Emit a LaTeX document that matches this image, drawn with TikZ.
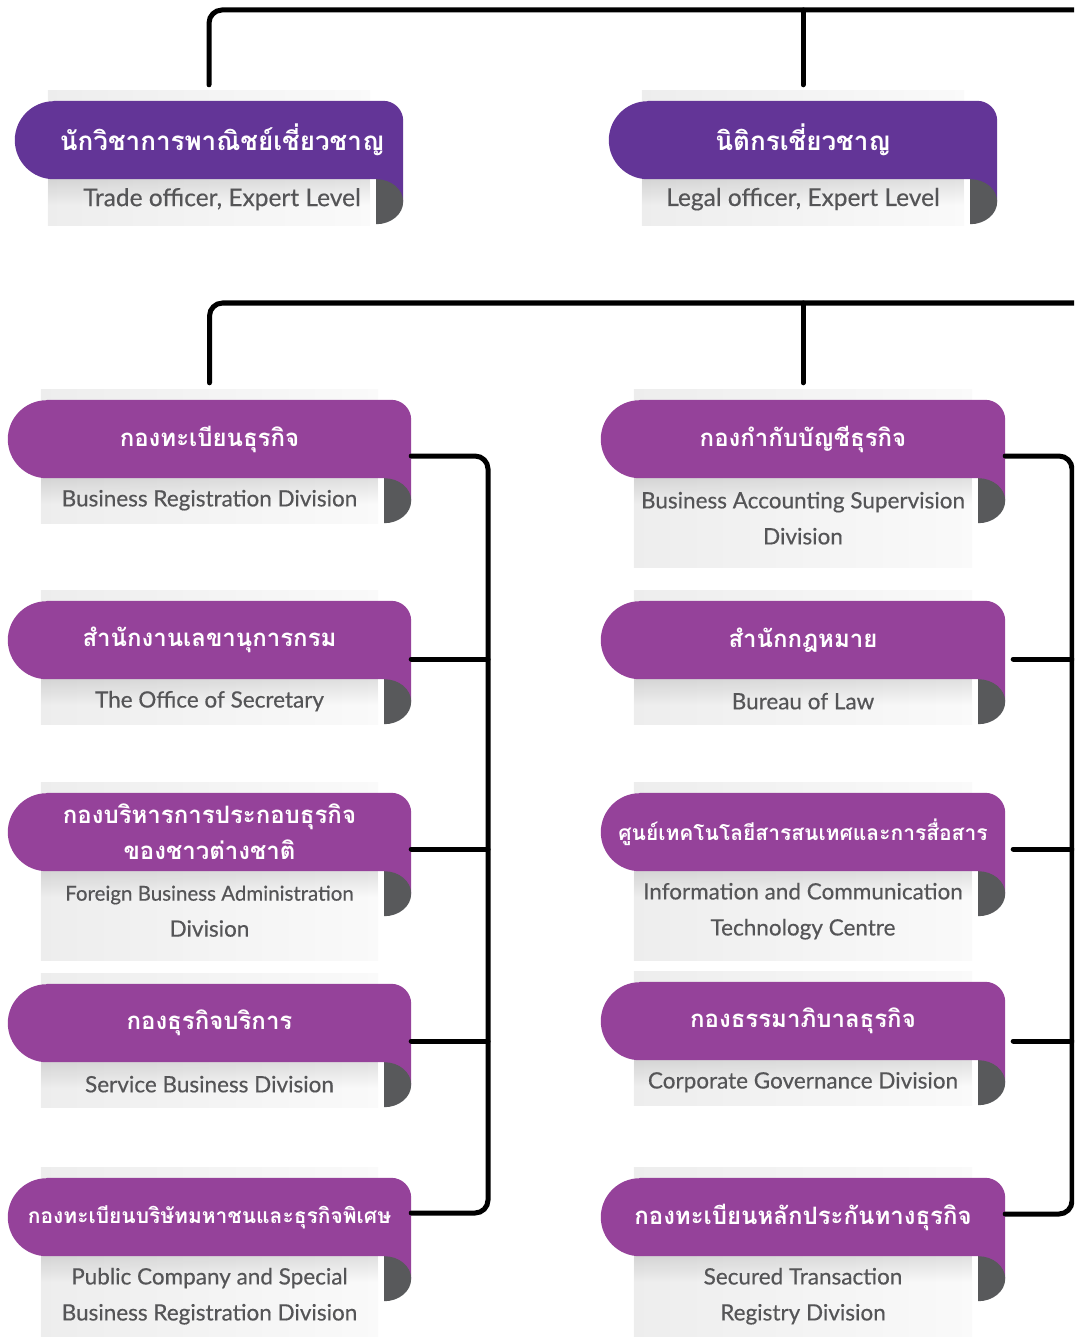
\documentclass[tikz,border=0pt]{standalone}
\usepackage{fontspec}
\newfontfamily\thaifont[Script=Thai]{Loma}
\newfontfamily\engfont[FakeBold=0.4]{Lato}
\usetikzlibrary{positioning,fadings}

\definecolor{toppurple}{HTML}{633597}
\definecolor{rowpurple}{HTML}{95429A}
\definecolor{curlgrey}{HTML}{58595B}
\definecolor{subgrey}{HTML}{555557}

\tikzfading[name=shadowfade, top color=transparent!0, bottom color=transparent!100]

\tikzset{%
  every banner/.style={
    rectangle,
    inner sep=0pt,
    minimum height=78pt
  },
  title text/.style={
    text=white,
    align=center,
    font=\thaifont\bfseries\fontsize{24}{36}\selectfont
  },
  sub text/.style={
    text=subgrey,
    align=center,
    font=\engfont\fontsize{22.5}{36}\selectfont
  },
  bus/.style={
    line width=5pt,
    line cap=round,
    rounded corners=13pt
  },
}

\newcommand{\toptitle}{\fontsize{26}{36}\selectfont}
\newcommand{\topsub}{\fontsize{24.5}{36}\selectfont}
\newcommand{\longtitle}{\fontsize{21}{36}\selectfont}
\newcommand{\longsub}{\fontsize{20.5}{36}\selectfont}

\begin{document}
\begin{tikzpicture}[x=1pt, y=1pt]

    \useasboundingbox (0,0) rectangle (1074,-1337);
    \clip (0,0) rectangle (1074,-1337);

    % cards: name / x / y / width / colour / title / subtitle / subtitle offset / panel depth
    \foreach \n/\x/\y/\w/\c/\t/\s/\o/\d in {
        top-1/209/140/388/toppurple/{\toptitle\hspace*{26pt}นักวิชาการพาณิชย์เชี่ยวชาญ}/{\topsub\hspace*{26pt}Trade officer, Expert Level}/20/46,
        top-2/803/140/388/toppurple/{\toptitle นิติกรเชี่ยวชาญ}/{\topsub Legal officer, Expert Level}/20/46,
        left-1/209.5/439/403/rowpurple/{กองทะเบียนธุรกิจ}/{Business Registration Division}/22/45,
        left-2/209.5/640/403/rowpurple/{สำนักงานเลขานุการกรม}/{The Office of Secretary}/22/45,
        left-3/209.5/832/403/rowpurple/{กองบริหารการประกอบธุรกิจ\\ของชาวต่างชาติ}/{\longsub Foreign Business Administration\\Division}/40/89,
        left-4/209.5/1023/403/rowpurple/{กองธุรกิจบริการ}/{Service Business Division}/22/45,
        left-5/209.5/1217/403/rowpurple/{\longtitle กองทะเบียนบริษัทมหาชนและธุรกิจพิเศษ}/{Public Company and Special\\Business Registration Division}/40/89,
        right-1/803/439/404/rowpurple/{กองกำกับบัญชีธุรกิจ}/{Business Accounting Supervision\\Division}/40/89,
        right-2/803/640/404/rowpurple/{สำนักกฎหมาย}/{Bureau of Law}/22/45,
        right-3/803/832/404/rowpurple/{\longtitle ศูนย์เทคโนโลยีสารสนเทศและการสื่อสาร}/{Information and Communication\\Technology Centre}/40/89,
        right-4/803/1021/404/rowpurple/{กองธรรมาภิบาลธุรกิจ}/{Corporate Governance Division}/22/45,
        right-5/803/1217/404/rowpurple/{กองทะเบียนหลักประกันทางธุรกิจ}/{Secured Transaction\\Registry Division}/40/89}
    {
        \node [every banner, minimum width=\w pt] (\n) at (\x,-\y) {};
        \fill [left color=black!7, right color=black!2]
            ([xshift=33pt,yshift=10pt]\n.north west) rectangle ([xshift=-33pt,yshift=-\d pt]\n.south east);
        \fill [black, opacity=0.10, path fading=shadowfade]
            ([xshift=33pt]\n.south west) rectangle ([xshift=-33pt,yshift=-26pt]\n.south east);
        \fill [\c] ([xshift=39pt]\n.north west) -- ([xshift=-20pt]\n.north east)
            arc [start angle=90, end angle=0, radius=20pt]
            -- ([yshift=-22.5pt]\n.south east) -- ([xshift=-27pt,yshift=-22.5pt]\n.south east)
            -- ([xshift=-27pt]\n.south east) -- ([xshift=39pt]\n.south west)
            arc [start angle=270, end angle=90, radius=39pt] -- cycle;
        \fill [curlgrey] ([xshift=-27pt]\n.south east)
            arc [start angle=90, end angle=-90, x radius=27pt, y radius=22.5pt] -- cycle;
        \node [title text] (\n-title) at (\n) {\t};
        \node [sub text] (\n-sub) at ([yshift=-\o pt]\n.south) {\s};
    }

    % top and middle bars
    \coordinate (top-bar) at (1090,-10);
    \coordinate (mid-bar) at (1090,-303);
    \coordinate (top-2-in) at ([yshift=16pt]top-2.north);
    \coordinate (right-1-in) at ([yshift=17pt]right-1.north);
    \draw [bus] ([yshift=16pt]top-1.north) |- (top-bar);
    \draw [bus] (top-2-in) -- (top-2-in |- top-bar);
    \draw [bus] ([yshift=17pt]left-1.north) |- (mid-bar);
    \draw [bus] (right-1-in) -- (right-1-in |- mid-bar);

    % side buses
    \coordinate (left-bus) at (488,-800);
    \coordinate (right-bus) at (1072,-800);
    \foreach \i/\o in {1/17,2/19,3/17,4/18,5/-4} {
        \coordinate (left-\i-out) at ([yshift=-\o pt]left-\i.east);
    }
    \foreach \i/\o/\g in {1/17/0,2/19/8,3/17/8,4/20/8,5/-3/0} {
        \coordinate (right-\i-out) at ([xshift=\g pt,yshift=-\o pt]right-\i.east);
    }
    \draw [bus] (left-1-out) -| (left-bus) |- (left-5-out);
    \draw [bus] (right-1-out) -| (right-bus) |- (right-5-out);
    \foreach \i in {2,3,4} {
        \draw [bus] (left-\i-out) -- (left-\i-out -| left-bus);
        \draw [bus] (right-\i-out) -- (right-\i-out -| right-bus);
    }

\end{tikzpicture}
\end{document}
